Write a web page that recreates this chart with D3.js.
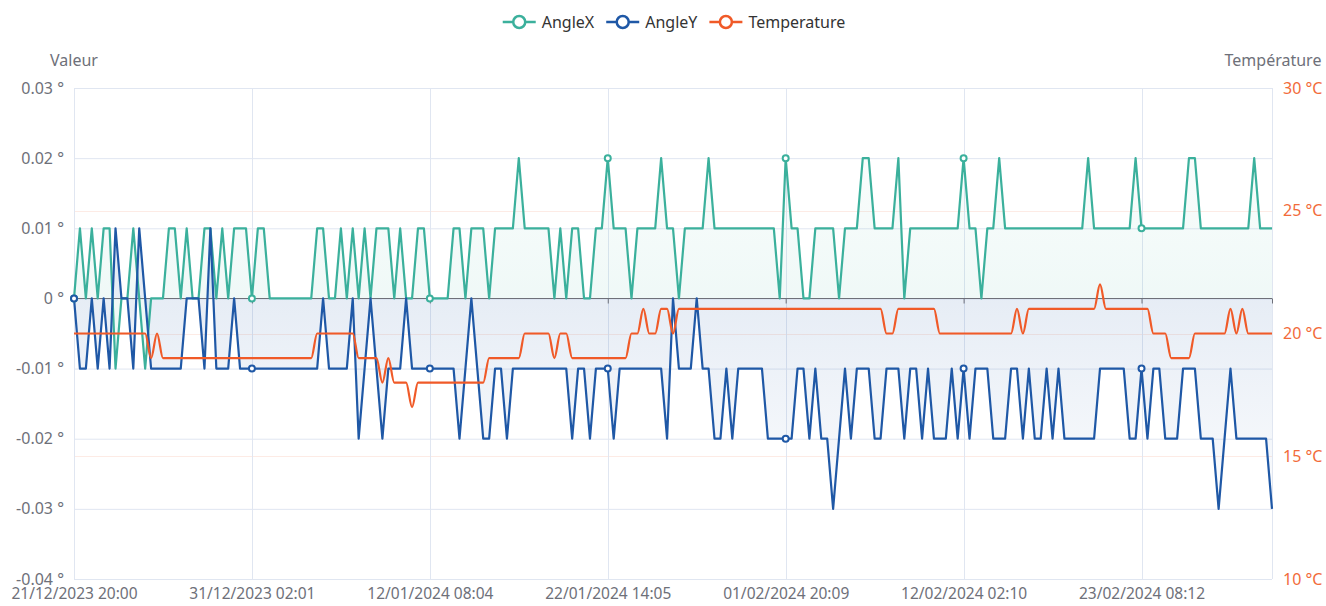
<!DOCTYPE html>
<html><head><meta charset="utf-8">
<script src="https://cdn.jsdelivr.net/npm/d3@7"></script>
<style>
html,body{margin:0;padding:0;background:#fff;}
svg{display:block;font-family:"Noto Sans",sans-serif;}
</style></head><body>
<svg id="chart" width="1326" height="606"></svg>
<script>
// ---- data ----
const angleX = [
0,0.01,0,0.01,0,0.01,0.01,-0.01,0,0,
0.01,0,-0.01,0,0,0,0.01,0.01,0,0.01,
0,0,0.01,0.01,0,0.01,0,0.01,0.01,0.01,
0,0.01,0.01,0,0,0,0,0,0,0,
0,0.01,0.01,0,0,0.01,0,0.01,0,0.01,
0,0.01,0.01,0.01,0,0.01,0,0,0.01,0.01,
0,0,0,0,0.01,0.01,0,0.01,0.01,0.01,
0,0.01,0.01,0.01,0.01,0.02,0.01,0.01,0.01,0.01,
0.01,0,0.01,0,0.01,0.01,0,0,0.01,0.01,
0.02,0.01,0.01,0.01,0,0.01,0.01,0.01,0.01,0.02,
0.01,0.01,0,0.01,0.01,0.01,0.01,0.02,0.01,0.01,
0.01,0.01,0.01,0.01,0.01,0.01,0.01,0.01,0.01,0,
0.02,0.01,0.01,0,0,0.01,0.01,0.01,0.01,0,
0.01,0.01,0.01,0.02,0.02,0.01,0.01,0.01,0.01,0.02,
0,0.01,0.01,0.01,0.01,0.01,0.01,0.01,0.01,0.01,
0.02,0.01,0.01,0,0.01,0.01,0.02,0.01,0.01,0.01,
0.01,0.01,0.01,0.01,0.01,0.01,0.01,0.01,0.01,0.01,
0.01,0.02,0.01,0.01,0.01,0.01,0.01,0.01,0.01,0.02,
0.01,0.01,0.01,0.01,0.01,0.01,0.01,0.01,0.02,0.02,
0.01,0.01,0.01,0.01,0.01,0.01,0.01,0.01,0.01,0.02,
0.01,0.01,0.01
];
const angleY = [
0,-0.01,-0.01,0,-0.01,0,-0.01,0.01,0,0,
-0.01,0.01,0,-0.01,-0.01,-0.01,-0.01,-0.01,-0.01,0,
0,0,-0.01,0.01,-0.01,-0.01,-0.01,0,-0.01,-0.01,
-0.01,-0.01,-0.01,-0.01,-0.01,-0.01,-0.01,-0.01,-0.01,-0.01,
-0.01,-0.01,0,-0.01,-0.01,-0.01,-0.01,0,-0.02,-0.01,
0,-0.01,-0.02,-0.01,-0.01,-0.01,0,-0.01,-0.01,-0.01,
-0.01,-0.01,-0.01,-0.01,-0.01,-0.02,-0.01,0,-0.01,-0.02,
-0.02,-0.01,-0.01,-0.02,-0.01,-0.01,-0.01,-0.01,-0.01,-0.01,
-0.01,-0.01,-0.01,-0.01,-0.02,-0.01,-0.01,-0.02,-0.01,-0.01,
-0.01,-0.02,-0.01,-0.01,-0.01,-0.01,-0.01,-0.01,-0.01,-0.01,
-0.02,0,-0.01,-0.01,-0.01,0,-0.01,-0.01,-0.02,-0.02,
-0.01,-0.02,-0.01,-0.01,-0.01,-0.01,-0.01,-0.02,-0.02,-0.02,
-0.02,-0.02,-0.01,-0.01,-0.02,-0.01,-0.02,-0.02,-0.03,-0.02,
-0.01,-0.02,-0.01,-0.01,-0.01,-0.02,-0.02,-0.01,-0.01,-0.01,
-0.02,-0.01,-0.01,-0.02,-0.01,-0.02,-0.02,-0.02,-0.01,-0.02,
-0.01,-0.02,-0.01,-0.01,-0.01,-0.02,-0.02,-0.02,-0.01,-0.01,
-0.02,-0.01,-0.02,-0.02,-0.01,-0.02,-0.01,-0.02,-0.02,-0.02,
-0.02,-0.02,-0.02,-0.01,-0.01,-0.01,-0.01,-0.01,-0.02,-0.02,
-0.01,-0.02,-0.01,-0.01,-0.02,-0.02,-0.02,-0.01,-0.01,-0.01,
-0.02,-0.02,-0.02,-0.03,-0.02,-0.01,-0.02,-0.02,-0.02,-0.02,
-0.02,-0.02,-0.03
];
const temperature = [
20,20,20,20,20,20,20,20,20,20,
20,20,20,19,20,19,19,19,19,19,
19,19,19,19,19,19,19,19,19,19,
19,19,19,19,19,19,19,19,19,19,
19,20,20,20,20,20,20,20,19,19,
19,19,18,19,18,18,18,17,18,18,
18,18,18,18,18,18,18,18,18,18,
19,19,19,19,19,19,20,20,20,20,
20,19,20,20,19,19,19,19,19,19,
19,19,19,19,20,20,21,20,20,21,
21,20,21,21,21,21,21,21,21,21,
21,21,21,21,21,21,21,21,21,21,
21,21,21,21,21,21,21,21,21,21,
21,21,21,21,21,21,21,20,20,21,
21,21,21,21,21,21,20,20,20,20,
20,20,20,20,20,20,20,20,20,21,
20,21,21,21,21,21,21,21,21,21,
21,21,21,22,21,21,21,21,21,21,
21,21,20,20,20,19,19,19,19,20,
20,20,20,20,20,21,20,21,20,20,
20,20,20
];
const tickIndices = [0,30,60,90,120,150,180];
const tickLabels = ["21/12/2023 20:00","31/12/2023 02:01","12/01/2024 08:04","22/01/2024 14:05","01/02/2024 20:09","12/02/2024 02:10","23/02/2024 08:12"];
const leftTicks = [0.03,0.02,0.01,0,-0.01,-0.02,-0.03,-0.04];
const rightTicks = [30,25,20,15,10];
const seriesNames = ["AngleX","AngleY","Temperature"];
const seriesColors = ["#3bb09c","#1f58a6","#f05a28"];

// ---- layout ----
const L = 74, R = 1272, T = 88, B = 579;
const svg = d3.select("#chart");
const N = angleX.length;
const x = d3.scalePoint().domain(d3.range(N)).range([L, R]);
const yL = d3.scaleLinear().domain([-0.04, 0.03]).range([B, T]);
const yR = d3.scaleLinear().domain([10, 30]).range([B, T]);
const grey = "#6e7079";
const fmtL = d => (Math.abs(d) < 1e-9 ? "0" : (+d.toFixed(2)).toString()) + " °";

const defs = svg.append("defs");
function grad(id, color, y1, y2, o1, o2) {
  const g = defs.append("linearGradient").attr("id", id)
    .attr("gradientUnits", "userSpaceOnUse").attr("x1", 0).attr("x2", 0).attr("y1", y1).attr("y2", y2);
  g.append("stop").attr("offset", 0).attr("stop-color", color).attr("stop-opacity", o1);
  g.append("stop").attr("offset", 1).attr("stop-color", color).attr("stop-opacity", o2);
}
grad("gX", seriesColors[0], yL(0.02), yL(0), 0.03, 0.08);
grad("gY", seriesColors[1], yL(0), yL(-0.03), 0.11, 0.02);

// right-axis split lines (faint orange)
svg.append("g").selectAll("line").data(rightTicks.filter(d => d !== 30 && d !== 10)).join("line")
  .attr("x1", L).attr("x2", R)
  .attr("y1", d => Math.round(yR(d)) + 0.5).attr("y2", d => Math.round(yR(d)) + 0.5)
  .attr("stroke", "#f05a28").attr("stroke-opacity", 0.12);

// left-axis grid
const gl = svg.append("g").attr("transform", `translate(${L},0)`)
  .call(d3.axisLeft(yL).tickValues(leftTicks).tickFormat(fmtL).tickSize(-(R - L)).tickPadding(10));
gl.select(".domain").remove();
gl.selectAll(".tick line").attr("stroke", "#e0e6f1");
gl.selectAll(".tick text").attr("fill", grey).style("font-size", "16px").style("font-family", "Noto Sans");

// vertical grid
svg.append("g").selectAll("line").data(tickIndices.concat([N - 1])).join("line")
  .attr("x1", d => Math.round(x(d)) + 0.5).attr("x2", d => Math.round(x(d)) + 0.5)
  .attr("y1", T).attr("y2", B).attr("stroke", "#e0e6f1");

// right axis labels
const gr = svg.append("g").attr("transform", `translate(${R},0)`)
  .call(d3.axisRight(yR).tickValues(rightTicks).tickFormat(d => d + " °C").tickSize(0).tickPadding(11));
gr.select(".domain").remove();
gr.selectAll(".tick text").attr("fill", "#f26b3a").style("font-size", "16px").style("font-family", "Noto Sans");

// areas
const areaX = d3.area().x((d, i) => x(i)).y0(yL(0)).y1(d => yL(d));
const areaY = d3.area().x((d, i) => x(i)).y0(yL(0)).y1(d => yL(d));
svg.append("path").datum(angleX).attr("d", areaX).attr("fill", "url(#gX)");
svg.append("path").datum(angleY).attr("d", areaY).attr("fill", "url(#gY)");

// zero axis with ticks
const gz = svg.append("g").attr("transform", `translate(0,${Math.round(yL(0)) + 0.5})`)
  .call(d3.axisBottom(x).tickValues(tickIndices.concat([N - 1])).tickSize(5).tickFormat(""));
gz.select(".domain").attr("stroke", grey).attr("d", `M${L},0H${R}`);
gz.selectAll(".tick line").attr("stroke", grey);

// bottom labels
const gb = svg.append("g").attr("transform", `translate(0,${B})`)
  .call(d3.axisBottom(x).tickValues(tickIndices).tickFormat(i => tickLabels[tickIndices.indexOf(i)]).tickSize(0).tickPadding(9));
gb.select(".domain").remove();
gb.selectAll(".tick text").attr("fill", grey).style("font-size", "15.5px").style("font-family", "Noto Sans");

// lines
const lineL = d3.line().x((d, i) => x(i)).y(d => yL(d));
const lineT = d3.line().x((d, i) => x(i)).y(d => yR(d)).curve(d3.curveMonotoneX);
svg.append("path").datum(angleX).attr("d", lineL).attr("fill", "none").attr("stroke", seriesColors[0]).attr("stroke-width", 2.2).attr("stroke-linejoin", "round");
svg.append("path").datum(angleY).attr("d", lineL).attr("fill", "none").attr("stroke", seriesColors[1]).attr("stroke-width", 2.2).attr("stroke-linejoin", "round");
svg.append("path").datum(temperature).attr("d", lineT).attr("fill", "none").attr("stroke", seriesColors[2]).attr("stroke-width", 2.2).attr("stroke-linejoin", "round");

// symbols at label intervals
[[angleX, 0], [angleY, 1]].forEach(([arr, k]) => {
  svg.append("g").selectAll("circle").data(tickIndices).join("circle")
    .attr("cx", i => x(i)).attr("cy", i => yL(arr[i])).attr("r", 3)
    .attr("fill", "#fff").attr("stroke", seriesColors[k]).attr("stroke-width", 2);
});

// axis names
svg.append("text").attr("x", 74).attr("y", 60).attr("dy", "0.35em").attr("text-anchor", "middle")
  .attr("fill", grey).style("font-size", "16px").text("Valeur");
svg.append("text").attr("x", 1273).attr("y", 60).attr("dy", "0.35em").attr("text-anchor", "middle")
  .attr("fill", grey).style("font-size", "16px").text("Température");

// legend
const lg = svg.append("g");
const iconW = 33, gapText = 6, gapItem = 12, ly = 22;
const items = seriesNames.map((n, k) => {
  const g = lg.append("g");
  const t = g.append("text").attr("x", iconW + gapText).attr("y", ly).attr("dy", "0.35em")
    .attr("fill", "#333").style("font-size", "16px").text(n);
  g.append("line").attr("x1", 0).attr("x2", iconW).attr("y1", ly).attr("y2", ly)
    .attr("stroke", seriesColors[k]).attr("stroke-width", 2.5);
  g.append("circle").attr("cx", iconW / 2).attr("cy", ly).attr("r", 6)
    .attr("fill", "#fff").attr("stroke", seriesColors[k]).attr("stroke-width", 2.5);
  return { g, w: iconW + gapText + t.node().getComputedTextLength() };
});
const total = d3.sum(items, d => d.w) + gapItem * (items.length - 1);
let cx = 674 - total / 2;
items.forEach(it => { it.g.attr("transform", `translate(${cx},0)`); cx += it.w + gapItem; });
</script>
</body></html>
